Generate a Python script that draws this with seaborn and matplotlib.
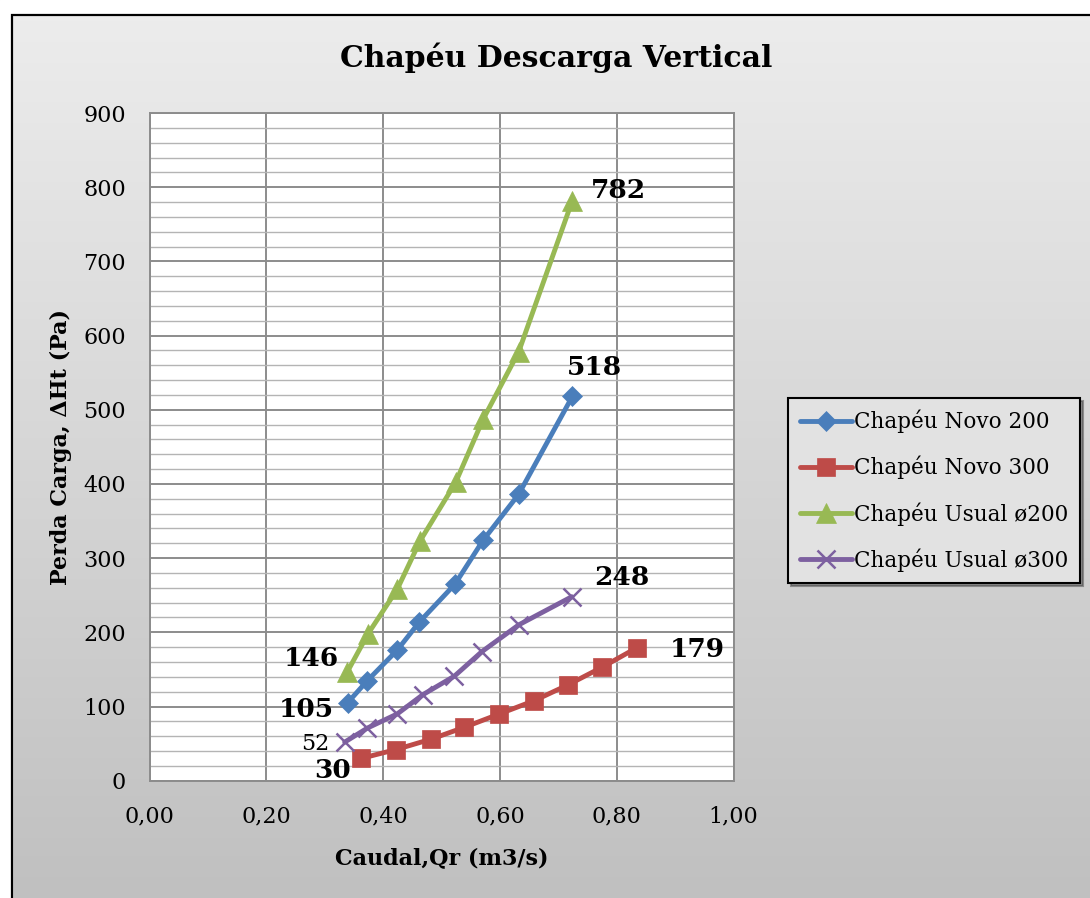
import numpy as np
import pandas as pd
import matplotlib
matplotlib.use("Agg")
import matplotlib.pyplot as plt
import seaborn as sns
from matplotlib.patches import Rectangle
from matplotlib.colors import LinearSegmentedColormap

# ---------------- data ----------------
novo200_x = [0.339, 0.373, 0.424, 0.462, 0.523, 0.571, 0.632, 0.724]
novo200_y = [105, 135, 176, 214, 265, 324, 386, 518]

novo300_x = [0.362, 0.422, 0.482, 0.539, 0.599, 0.659, 0.716, 0.775, 0.834]
novo300_y = [30, 42, 56, 72, 90, 108, 129, 153, 179]

usual200_x = [0.338, 0.374, 0.424, 0.463, 0.524, 0.571, 0.632, 0.724]
usual200_y = [146, 198, 258, 323, 402, 487, 578, 782]

usual300_x = [0.334, 0.373, 0.424, 0.468, 0.522, 0.569, 0.632, 0.723]
usual300_y = [52, 71, 90, 116, 141, 174, 210, 248]

series_names = ["Chapéu Novo 200", "Chapéu Novo 300", "Chapéu Usual ø200", "Chapéu Usual ø300"]
x_ticks = [0.0, 0.2, 0.4, 0.6, 0.8, 1.0]
x_ticklabels = ["0,00", "0,20", "0,40", "0,60", "0,80", "1,00"]
y_ticks = [0, 100, 200, 300, 400, 500, 600, 700, 800, 900]

title = "Chapéu Descarga Vertical"
xlabel = "Caudal,Qr (m3/s)"
ylabel = "Perda Carga, ΔHt (Pa)"

# ---------------- style ----------------
sns.set_theme(style="white")
plt.rcParams["font.family"] = ["DejaVu Serif", "DejaVu Sans"]
plt.rcParams["text.color"] = "black"
plt.rcParams["axes.labelcolor"] = "black"

colors = ["#4a7ebb", "#be4b48", "#98b954", "#7d60a0"]
markers = ["D", "s", "^", "x"]
msizes = [10.5, 13, 14, 13]

frames = []
for name, xs, ys in zip(series_names,
                        [novo200_x, novo300_x, usual200_x, usual300_x],
                        [novo200_y, novo300_y, usual200_y, usual300_y]):
    frames.append(pd.DataFrame({"Caudal": xs, "Perda": ys, "Serie": name}))
df = pd.concat(frames, ignore_index=True)

W, H = 1090, 898
fig = plt.figure(figsize=(W / 100, H / 100), dpi=100)
fig.patch.set_facecolor("white")

# gradient chart background
bg = fig.add_axes([0, 0, 1, 1], zorder=-10)
grad = np.linspace(0, 1, 256).reshape(-1, 1)
cmap_bg = LinearSegmentedColormap.from_list("bg", ["#ededed", "#c0c0c0"])
bg.imshow(grad, aspect="auto", cmap=cmap_bg, extent=[0, 1, 0, 1], origin="upper")
bg.set_xlim(0, 1)
bg.set_ylim(0, 1)
bg.axis("off")
bg.add_patch(Rectangle((0, 1 - 15 / H), 1, 15 / H, color="white", zorder=2))
bg.add_patch(Rectangle((0, 0), 12 / W, 1, color="white", zorder=2))
bg.add_patch(Rectangle((12 / W, -0.01), 1.0, 1 - 15 / H + 0.01, fill=False,
                       edgecolor="black", linewidth=1.6, zorder=3))

ax = fig.add_axes([149.7 / W, 1 - 780.7 / H, (733.5 - 149.7) / W, (780.7 - 113) / H])
ax.set_facecolor("white")

for i, name in enumerate(series_names):
    sub = df[df["Serie"] == name]
    sns.lineplot(data=sub, x="Caudal", y="Perda", ax=ax, color=colors[i],
                 marker=markers[i], markersize=msizes[i], linewidth=3.5,
                 markeredgewidth=1.8 if markers[i] == "x" else 0.5,
                 markeredgecolor=colors[i], label=name, sort=False, zorder=5)

ax.set_xlim(0, 1.0)
ax.set_ylim(0, 900)
ax.set_xticks(x_ticks)
ax.set_xticklabels(x_ticklabels)
ax.set_yticks(y_ticks)
ax.set_yticks(np.arange(0, 901, 20), minor=True)
ax.grid(which="minor", axis="y", color="#b4b4b4", linewidth=1.0, zorder=0)
ax.grid(which="major", axis="y", color="#8c8c8c", linewidth=1.4, zorder=0)
ax.grid(which="major", axis="x", color="#8c8c8c", linewidth=1.4, zorder=0)
ax.set_axisbelow(True)
for s in ax.spines.values():
    s.set_color("#8c8c8c")
    s.set_linewidth(1.4)
ax.tick_params(axis="both", which="both", length=0, labelsize=16, colors="black")
ax.tick_params(axis="x", pad=18)
ax.tick_params(axis="y", pad=17)

ax.set_xlabel(xlabel, fontsize=16, fontweight="bold", labelpad=14, color="black")
ax.set_ylabel(ylabel, fontsize=16, fontweight="bold", labelpad=8, color="black")
fig.text(556 / W, 1 - 58 / H, title, fontsize=21.5, fontweight="bold",
         ha="center", va="center", color="black")

# data labels
lab_kw = dict(fontsize=19, fontweight="bold", color="black")
ax.annotate(str(usual200_y[-1]), (usual200_x[-1], usual200_y[-1]), xytext=(13, 7),
            textcoords="offset points", ha="left", va="center", **lab_kw)
ax.annotate(str(novo200_y[-1]), (novo200_x[-1], novo200_y[-1]), xytext=(16, 21),
            textcoords="offset points", ha="center", va="center", **lab_kw)
ax.annotate(str(usual300_y[-1]), (usual300_x[-1], usual300_y[-1]), xytext=(36, 14),
            textcoords="offset points", ha="center", va="center", **lab_kw)
ax.annotate(str(novo300_y[-1]), (novo300_x[-1], novo300_y[-1]), xytext=(24, -1),
            textcoords="offset points", ha="left", va="center", **lab_kw)
ax.annotate(str(usual200_y[0]), (usual200_x[0], usual200_y[0]), xytext=(-6, 10),
            textcoords="offset points", ha="right", va="center", **lab_kw)
ax.annotate(str(novo200_y[0]), (novo200_x[0], novo200_y[0]), xytext=(-10, -5),
            textcoords="offset points", ha="right", va="center", **lab_kw)
ax.annotate(str(usual300_y[0]), (usual300_x[0], usual300_y[0]), xytext=(-11, -1),
            textcoords="offset points", ha="right", va="center", fontsize=16,
            color="black")
ax.annotate(str(novo300_y[0]), (novo300_x[0], novo300_y[0]), xytext=(-7, -9),
            textcoords="offset points", ha="right", va="center", **lab_kw)

leg = ax.legend(loc="upper left", bbox_to_anchor=(788 / W, 1 - 398 / H),
                bbox_transform=fig.transFigure, borderaxespad=0, frameon=True,
                fancybox=False, shadow=True, fontsize=15.5, handlelength=2.4,
                handletextpad=0.1, labelspacing=1.05, borderpad=0.55)
leg.get_frame().set_facecolor("#e2e2e2")
leg.get_frame().set_edgecolor("black")
leg.get_frame().set_linewidth(1.5)
for t in leg.get_texts():
    t.set_color("black")

fig.savefig("out.png", dpi=100)
